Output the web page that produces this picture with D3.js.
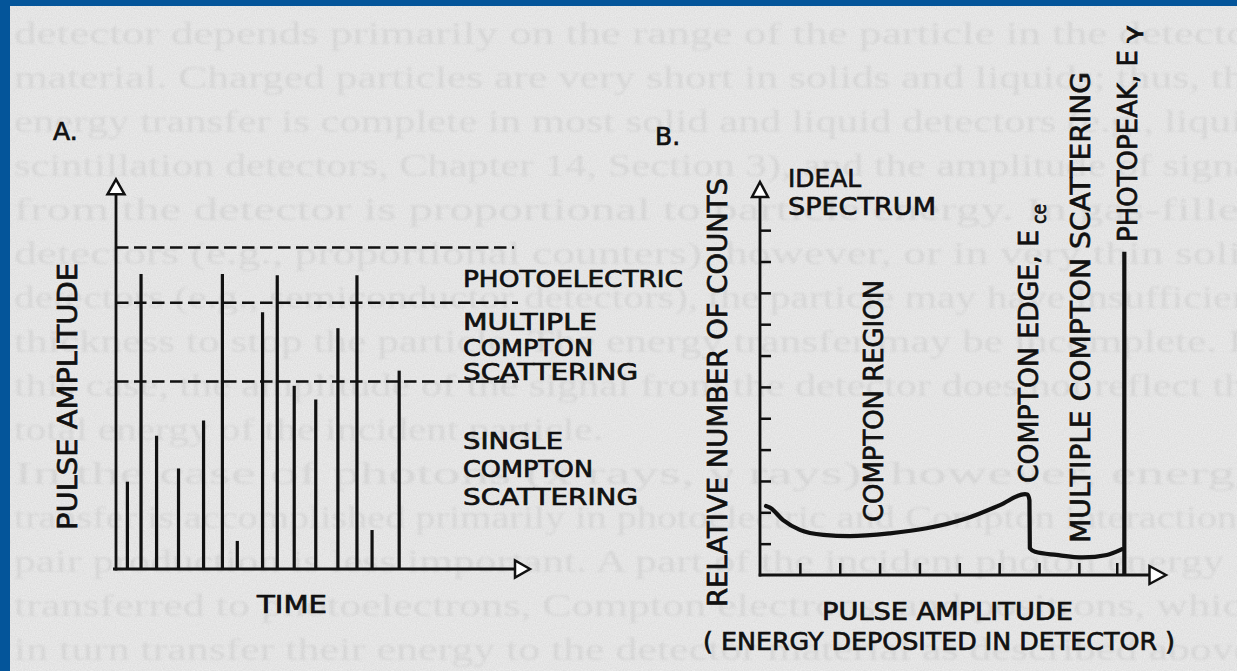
<!DOCTYPE html>
<html><head><meta charset="utf-8">
<script src="https://cdn.jsdelivr.net/npm/d3@7"></script>
<style>html,body{margin:0;padding:0;background:#04559a;overflow:hidden}</style>
</head><body>
<svg id="c" width="1237" height="671"></svg>
<script>
// ---------- DATA ----------
// Panel A: pulses in time
const pulseTimes   = [0.55, 1.21, 1.96, 3.02, 4.23, 5.14, 5.86, 7.08, 7.79, 8.61, 9.65, 10.72, 11.64, 12.37, 13.68];
const pulseHeights = [2.24, 7.57, 3.42, 2.58, 3.81, 7.57, 0.72, 6.59, 7.54, 4.70, 4.35, 6.18, 7.54, 1.00, 5.09];
const thresholdLevels = [8.25, 6.83, 4.81];
const thresholdEnds   = [19.23, 19.42, 19.42];
const labelsA = ["PHOTOELECTRIC", "MULTIPLE", "COMPTON", "SCATTERING", "SINGLE", "COMPTON", "SCATTERING"];

// Panel B: ideal spectrum
const specEnergy = [0.15, 0.25, 0.58, 1.00, 1.59, 2.26, 3.26, 4.18, 5.19, 6.02, 6.65, 6.71, 6.76, 6.77, 6.90, 7.44, 8.11, 8.70, 9.07];
const specCounts = [2.20, 2.15, 1.75, 1.44, 1.28, 1.24, 1.33, 1.49, 1.81, 2.23, 2.58, 2.57, 2.39, 0.85, 0.74, 0.64, 0.56, 0.64, 0.82];
const photopeakEnergy = 9.14;
const photopeakCounts = 10.31;
const xTicksB = [1, 2, 3, 4, 5, 6, 7, 8, 8.95];
const yTicksB = [1, 2, 3, 4, 5, 6, 7, 8, 9, 10, 11];

// Faint page text showing through the scan
const pageLines = [
  "detector depends primarily on the range of the particle in the detector",
  "material. Charged particles are very short in solids and liquids; thus, the",
  "energy transfer is complete in most solid and liquid detectors (e.g., liquid",
  "scintillation detectors, Chapter 14, Section 3), and the amplitude of signal",
  "from the detector is proportional to particle energy. In gas-filled",
  "detectors (e.g., proportional counters), however, or in very thin solid",
  "detectors (e.g., semiconductor detectors), the particle may have insufficient",
  "thickness to stop the particle. The energy transfer may be incomplete. In",
  "this case, the amplitude of the signal from the detector does not reflect the",
  "total energy of the incident particle.",
  "    In the case of photons (x rays, γ rays), however, energy",
  "transfer is accomplished primarily in photoelectric and Compton interactions;",
  "pair production is less important. A part of the incident photon energy is",
  "transferred to photoelectrons, Compton electrons, and positrons, which",
  "in turn transfer their energy to the detector material as described above."
];

// ---------- DRAW ----------
const svg = d3.select("#c");
const FONT = "DejaVu Sans, Liberation Sans, sans-serif";
const INK = "#111";

// page
svg.append("rect").attr("x", 10).attr("y", 6).attr("width", 1227).attr("height", 665).attr("fill", "#efefef");
const defs = svg.append("defs");
const f = defs.append("filter").attr("id", "grain").attr("x", 0).attr("y", 0).attr("width", 1).attr("height", 1);
f.append("feTurbulence").attr("type", "fractalNoise").attr("baseFrequency", 0.85).attr("numOctaves", 2).attr("seed", 4);
f.append("feColorMatrix").attr("type", "matrix").attr("values", "0 0 0 0 0  0 0 0 0 0  0 0 0 0 0  0 0 0 0.09 0");
const blur = defs.append("filter").attr("id", "soft");
blur.append("feGaussianBlur").attr("stdDeviation", 0.9);

// faint text (bleed-through of the printed page)
const pg = svg.append("g").attr("fill", "#e1e1e1").attr("font-family", "Liberation Serif, serif")
  .attr("font-size", 31).attr("filter", "url(#soft)");
pg.selectAll("text").data(pageLines).join("text")
  .attr("x", 14)
  .attr("y", (d, i) => 44 + i * 44)
  .attr("textLength", d => d.length > 50 ? 1250 : d.length * 15.5)
  .attr("lengthAdjust", "spacingAndGlyphs")
  .text(d => d);

svg.append("rect").attr("x", 10).attr("y", 6).attr("width", 1227).attr("height", 665).attr("filter", "url(#grain)");

// ===== Panel A =====
const xA = d3.scaleLinear().domain([0, 20]).range([116, 530]);
const yA = d3.scaleLinear().domain([0, 10]).range([569, 179.3]);
const gA = svg.append("g").attr("stroke", INK).attr("fill", "none").attr("stroke-linecap", "butt");

// dashed threshold lines
gA.selectAll("line.th").data(thresholdLevels).join("line").attr("class", "th")
  .attr("x1", xA(0)).attr("x2", (d, i) => xA(thresholdEnds[i]))
  .attr("y1", d => yA(d)).attr("y2", d => yA(d))
  .attr("stroke-width", 2.5).attr("stroke-dasharray", "12.5,5.5");

// pulses
gA.selectAll("line.p").data(pulseTimes).join("line").attr("class", "p")
  .attr("x1", d => xA(d)).attr("x2", d => xA(d))
  .attr("y1", yA(0)).attr("y2", (d, i) => yA(pulseHeights[i]))
  .attr("stroke-width", 3.2);

// axes
gA.append("line").attr("x1", xA(0)).attr("x2", xA(0)).attr("y1", yA(0) + 1.5).attr("y2", yA(10) + 14).attr("stroke-width", 2.8);
gA.append("line").attr("x1", xA(0) - 3).attr("x2", xA(20) - 15).attr("y1", yA(0)).attr("y2", yA(0)).attr("stroke-width", 2.8);
gA.append("path").attr("fill", "#fff").attr("stroke-width", 2.5).attr("stroke-linejoin", "miter")
  .attr("d", `M${xA(0)},${yA(10)} L${xA(0) + 8.5},${yA(10) + 15} L${xA(0) - 8.5},${yA(10) + 15} Z`);
gA.append("path").attr("fill", "#fff").attr("stroke-width", 2.5)
  .attr("d", `M${xA(20)},${yA(0)} L${xA(20) - 15},${yA(0) - 8.5} L${xA(20) - 15},${yA(0) + 8.5} Z`);

// text A
const tA = svg.append("g").attr("fill", INK).attr("stroke", INK).attr("stroke-width", 0.7).attr("font-family", FONT);
tA.append("text").attr("x", 53).attr("y", 140).attr("font-size", 25).text("A.");
tA.append("text").attr("transform", "translate(77,530) rotate(-90)").attr("font-size", 26)
  .attr("textLength", 267).attr("lengthAdjust", "spacingAndGlyphs").text("PULSE  AMPLITUDE");
tA.append("text").attr("x", 257).attr("y", 613).attr("font-size", 24)
  .attr("textLength", 70).attr("lengthAdjust", "spacingAndGlyphs").text("TIME");
const labA_y = [287, 330, 356, 380, 449, 477, 505];
const labA_w = [220, 134, 130, 175, 100, 130, 175];
tA.selectAll("text.lab").data(labelsA).join("text").attr("class", "lab")
  .attr("x", 463).attr("y", (d, i) => labA_y[i]).attr("font-size", 23)
  .attr("textLength", (d, i) => labA_w[i]).attr("lengthAdjust", "spacingAndGlyphs").text(d => d);

// ===== Panel B =====
const xB = d3.scaleLinear().domain([0, 10]).range([760, 1158.6]);
const yB = d3.scaleLinear().domain([0, 12]).range([575, 575 - 12 * 31.35]);
const gB = svg.append("g").attr("stroke", INK).attr("fill", "none");

const xAxisB = d3.axisBottom(xB).tickValues(xTicksB).tickSizeInner(-12).tickSizeOuter(0).tickFormat("");
const yAxisB = d3.axisLeft(yB).tickValues(yTicksB).tickSizeInner(-11).tickSizeOuter(0).tickFormat("");
const ax = gB.append("g").attr("transform", `translate(0,${yB(0)})`).call(xAxisB);
const ay = gB.append("g").attr("transform", `translate(${xB(0)},0)`).call(yAxisB);
[ax, ay].forEach(g => {
  g.select(".domain").remove();
  g.selectAll(".tick line").attr("stroke", INK).attr("stroke-width", 2.5);
});

// axis lines + arrows
gB.append("line").attr("x1", xB(0)).attr("x2", xB(0)).attr("y1", yB(0) + 1.5).attr("y2", 197).attr("stroke-width", 2.8);
gB.append("line").attr("x1", xB(0) - 1.3).attr("x2", 1150).attr("y1", yB(0)).attr("y2", yB(0)).attr("stroke-width", 2.8);
gB.append("path").attr("fill", "#fff").attr("stroke-width", 2.5)
  .attr("d", `M${xB(0)},182 L${xB(0) + 8},197 L${xB(0) - 8},197 Z`);
gB.append("path").attr("fill", "#fff").attr("stroke-width", 2.5)
  .attr("d", `M1166,${yB(0)} L1149.5,${yB(0) - 9} L1149.5,${yB(0) + 9} Z`);

// spectrum curve
const line = d3.line().x(d => xB(d[0])).y(d => yB(d[1])).curve(d3.curveMonotoneX);
gB.append("path").datum(specEnergy.map((e, i) => [e, specCounts[i]]))
  .attr("d", line).attr("stroke-width", 4.2).attr("stroke-linejoin", "round").attr("stroke-linecap", "round");

// photopeak
gB.append("line").attr("x1", xB(photopeakEnergy)).attr("x2", xB(photopeakEnergy))
  .attr("y1", yB(0)).attr("y2", yB(photopeakCounts)).attr("stroke-width", 4.2);

// text B
const tB = svg.append("g").attr("fill", INK).attr("stroke", INK).attr("stroke-width", 0.7).attr("font-family", FONT);
tB.append("text").attr("x", 655).attr("y", 145).attr("font-size", 25).text("B.");
tB.append("text").attr("transform", "translate(727,607) rotate(-90)").attr("font-size", 26)
  .attr("textLength", 429).attr("lengthAdjust", "spacingAndGlyphs").text("RELATIVE  NUMBER  OF COUNTS");
tB.append("text").attr("x", 788).attr("y", 187).attr("font-size", 25)
  .attr("textLength", 73).attr("lengthAdjust", "spacingAndGlyphs").text("IDEAL");
tB.append("text").attr("x", 788).attr("y", 215).attr("font-size", 25)
  .attr("textLength", 148).attr("lengthAdjust", "spacingAndGlyphs").text("SPECTRUM");
tB.append("text").attr("transform", "translate(883,522) rotate(-90)").attr("font-size", 26)
  .attr("textLength", 242).attr("lengthAdjust", "spacingAndGlyphs").text("COMPTON  REGION");
tB.append("text").attr("transform", "translate(1038,483) rotate(-90)").attr("font-size", 26)
  .attr("textLength", 253).attr("lengthAdjust", "spacingAndGlyphs").text("COMPTON EDGE, E");
tB.append("text").attr("transform", "translate(1046,224) rotate(-90)").attr("font-size", 19)
  .attr("textLength", 20).attr("lengthAdjust", "spacingAndGlyphs").text("ce");
tB.append("text").attr("transform", "translate(1090,543) rotate(-90)").attr("font-size", 26)
  .attr("textLength", 471).attr("lengthAdjust", "spacingAndGlyphs").text("MULTIPLE  COMPTON  SCATTERING");
tB.append("text").attr("transform", "translate(1137,242) rotate(-90)").attr("font-size", 26)
  .attr("textLength", 192).attr("lengthAdjust", "spacingAndGlyphs").text("PHOTOPEAK, E");
tB.append("text").attr("transform", "translate(1139,43) rotate(-90)").attr("font-size", 22)
  .attr("textLength", 18).attr("lengthAdjust", "spacingAndGlyphs").text("γ");
tB.append("text").attr("x", 822).attr("y", 620).attr("font-size", 24)
  .attr("textLength", 251).attr("lengthAdjust", "spacingAndGlyphs").text("PULSE  AMPLITUDE");
tB.append("text").attr("x", 703).attr("y", 650).attr("font-size", 24)
  .attr("textLength", 472).attr("lengthAdjust", "spacingAndGlyphs").text("( ENERGY DEPOSITED IN DETECTOR )");
</script>
</body></html>
